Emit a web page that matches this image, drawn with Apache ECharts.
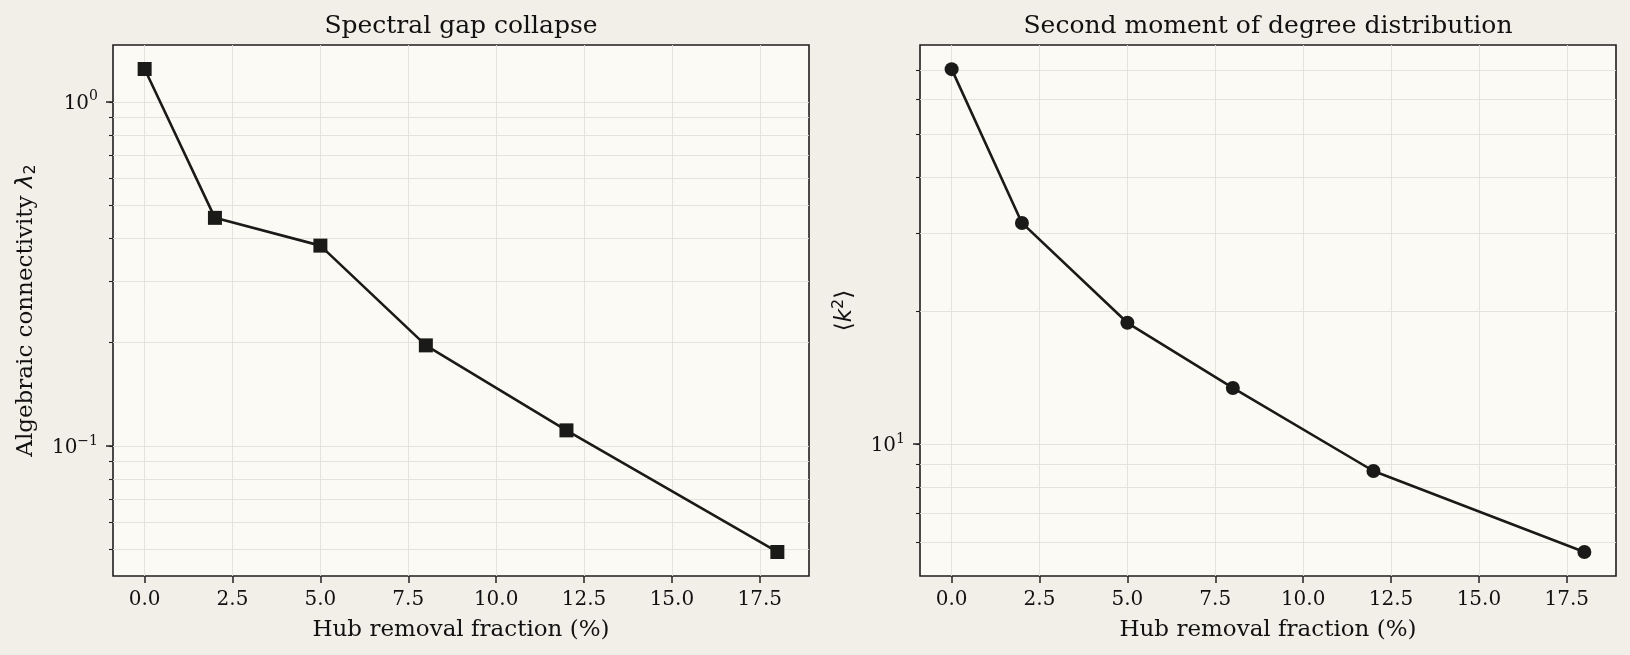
<!DOCTYPE html>
<html lang="en">
  <head>
    <meta charset="UTF-8" />
    <title>Hub removal</title>
    <style>
      html,
      body {
        margin: 0;
        background: #f2efe9;
      }
      #main {
        width: 1630px;
        height: 655px;
      }
    </style>
  </head>
  <body>
    <div id="main"></div>
    <script src="https://cdn.jsdelivr.net/npm/echarts@6/dist/echarts.min.js"></script>
    <script>
      // data
      const removal = [0, 2, 5, 8, 12, 18];
      const lambda2 = [1.245, 0.46, 0.382, 0.196, 0.111, 0.0492];
      const k2 = [70.3, 31.6, 18.8, 13.4, 8.7, 5.71];

      const xTicks = [0, 2.5, 5, 7.5, 10, 12.5, 15, 17.5];
      const leftMajor = [0.1, 1];
      const rightMajor = [10];

      // axis extents (matplotlib 5% margins in log space)
      const leftRange = [0.0419, 1.462];
      const rightRange = [5.04, 79.7];

      const ink = "#1a1a18";
      const gridColor = "#e2e0da";
      const serif = "DejaVu Serif";

      // 10^k label as rich text
      const powLabel = (v) => {
        const e = Math.round(v);
        return "{b|10}{e|" + (e < 0 ? "−" + -e : e) + "}";
      };
      const powRich = {
        b: { fontFamily: serif, fontSize: 20, color: "#111", lineHeight: 24, verticalAlign: "bottom" },
        e: { fontFamily: serif, fontSize: 14, color: "#111", lineHeight: 24, verticalAlign: "top" },
      };

      // all log-minor positions (2..9 x 10^k) inside a range
      const minorTicks = (range) => {
        const out = [];
        for (let e = -3; e <= 3; e++) {
          for (let m = 1; m <= 9; m++) {
            const v = m * Math.pow(10, e);
            if (v >= range[0] && v <= range[1]) out.push(Math.log10(v));
          }
        }
        return out;
      };

      const grids = [
        { left: 113, top: 45, width: 696, height: 531 },
        { left: 920, top: 45, width: 696, height: 531 },
      ];

      const xAxisFor = (gi) => ({
        type: "value",
        gridIndex: gi,
        position: "bottom",
        min: -0.9,
        max: 18.9,
        name: "Hub removal fraction (%)",
        nameLocation: "middle",
        nameGap: 43,
        nameTextStyle: { fontFamily: serif, fontSize: 23, color: "#111" },
        axisLine: { show: false, onZero: false },
        axisTick: {
          customValues: xTicks,
          length: 7,
          lineStyle: { color: "#222", width: 1.5 },
        },
        axisLabel: {
          customValues: xTicks,
          formatter: (v) => v.toFixed(1),
          margin: 14,
          fontFamily: serif,
          fontSize: 20,
          color: "#111",
        },
        splitLine: { show: true, lineStyle: { color: gridColor, width: 0.9 } },
      });

      const yAxesFor = (gi, range, majors, name, nameGap, rich) => {
        const lo = Math.log10(range[0]);
        const hi = Math.log10(range[1]);
        const majorLog = majors.map((v) => Math.log10(v));
        return [
          {
            type: "value",
            gridIndex: gi,
            position: "left",
            min: lo,
            max: hi,
            name: name,
            nameLocation: "middle",
            nameGap: nameGap,
            nameRotate: 90,
            nameTextStyle: { fontFamily: serif, fontSize: 23, color: "#111", rich: rich },
            axisLine: { show: false, onZero: false },
            axisTick: {
              customValues: minorTicks(range),
              length: 4,
              lineStyle: { color: "#222", width: 1.1 },
            },
            axisLabel: {
              customValues: majorLog,
              formatter: powLabel,
              rich: powRich,
              margin: 15,
            },
            splitLine: { show: true, lineStyle: { color: gridColor, width: 0.9 } },
          },
          {
            type: "value",
            gridIndex: gi,
            position: "left",
            offset: 0,
            min: lo,
            max: hi,
            axisLine: { show: false, onZero: false },
            axisTick: {
              customValues: majorLog,
              length: 7,
              lineStyle: { color: "#222", width: 1.5 },
            },
            axisLabel: { show: false },
            splitLine: { show: false },
          },
        ];
      };

      const chart = echarts.init(document.getElementById("main"));
      const option = {
        animation: false,
        backgroundColor: "#f2efe9",
        title: [
          {
            text: "Spectral gap collapse",
            left: 461,
            top: 14,
            padding: 0,
            textAlign: "center",
            textStyle: { fontFamily: serif, fontSize: 25, fontWeight: "normal", color: "#111" },
          },
          {
            text: "Second moment of degree distribution",
            left: 1268,
            top: 14,
            padding: 0,
            textAlign: "center",
            textStyle: { fontFamily: serif, fontSize: 25, fontWeight: "normal", color: "#111" },
          },
        ],
        grid: grids.map((g) => ({
          ...g,
          show: true,
          backgroundColor: "#fcfaf5",
          borderColor: "#1e1e1e",
          borderWidth: 1.6,
        })),
        xAxis: [xAxisFor(0), xAxisFor(1)],
        yAxis: [
          ...yAxesFor(0, leftRange, leftMajor, "{t|Algebraic connectivity }{l|λ}{s|2}", 74, {
            t: { fontFamily: serif, fontSize: 23, color: "#111", lineHeight: 26 },
            l: { fontFamily: "DejaVu Sans", fontStyle: "italic", fontSize: 23, color: "#111", lineHeight: 26 },
            s: { fontFamily: "DejaVu Sans", fontSize: 16, color: "#111", verticalAlign: "bottom", lineHeight: 26 },
          }),
          ...yAxesFor(1, rightRange, rightMajor, "{m|⟨}{k|k}{s|2}{m|⟩}", 61, {
            m: { fontFamily: "DejaVu Sans", fontSize: 23, color: "#111", lineHeight: 28 },
            k: { fontFamily: "DejaVu Sans", fontStyle: "italic", fontSize: 23, color: "#111", lineHeight: 28 },
            s: { fontFamily: "DejaVu Sans", fontSize: 16, color: "#111", verticalAlign: "top", lineHeight: 28 },
          }),
        ],
        series: [
          {
            type: "line",
            xAxisIndex: 0,
            yAxisIndex: 0,
            data: removal.map((x, i) => [x, Math.log10(lambda2[i])]),
            symbol: "rect",
            symbolSize: 14,
            lineStyle: { color: ink, width: 2.6 },
            itemStyle: { color: ink },
          },
          {
            type: "line",
            xAxisIndex: 1,
            yAxisIndex: 2,
            data: removal.map((x, i) => [x, Math.log10(k2[i])]),
            symbol: "circle",
            symbolSize: 14,
            lineStyle: { color: ink, width: 2.6 },
            itemStyle: { color: ink },
          },
        ],
      };
      chart.setOption(option);
    </script>
  </body>
</html>
